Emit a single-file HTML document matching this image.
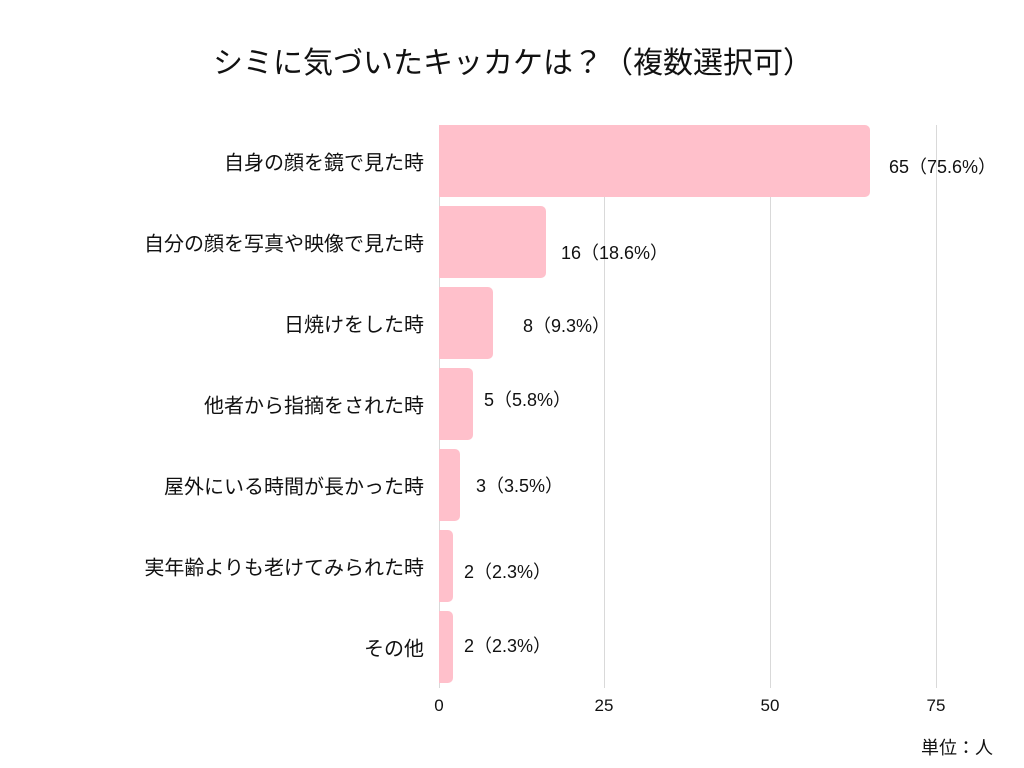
<!DOCTYPE html>
<html><head><meta charset="utf-8"><style>
html,body{margin:0;padding:0;background:#fff;}
body{width:1024px;height:768px;position:relative;overflow:hidden;font-family:"Liberation Sans","Noto Sans CJK JP",sans-serif;color:#111;}
.t{position:absolute;white-space:nowrap;}
.grid{position:absolute;top:125px;height:563px;width:1px;background:#d9d9d9;}
.bar{position:absolute;left:439px;height:72px;background:#ffc0cb;border-radius:0 5px 5px 0;}
.lab{position:absolute;right:600px;font-size:20px;transform:translateY(-50%);}
.val{position:absolute;font-size:18px;transform:translateY(-50%);}
.tick{position:absolute;top:696px;font-size:17px;transform:translateX(-50%);}
</style></head><body>
<div class="t" style="left:0;width:1026px;text-align:center;top:38px;font-size:30px;">シミに気づいたキッカケは？（複数選択可）</div>
<div class="grid" style="left:439px"></div>
<div class="grid" style="left:604px"></div>
<div class="grid" style="left:770px"></div>
<div class="grid" style="left:936px"></div>

<div class="bar" style="top:125px;width:431px"></div>
<div class="bar" style="top:206px;width:107px"></div>
<div class="bar" style="top:287px;width:54px"></div>
<div class="bar" style="top:368px;width:34px"></div>
<div class="bar" style="top:449px;width:21px"></div>
<div class="bar" style="top:530px;width:14px"></div>
<div class="bar" style="top:611px;width:14px"></div>

<div class="t lab" style="top:161px">自身の顔を鏡で見た時</div>
<div class="t lab" style="top:242px">自分の顔を写真や映像で見た時</div>
<div class="t lab" style="top:323px">日焼けをした時</div>
<div class="t lab" style="top:404px">他者から指摘をされた時</div>
<div class="t lab" style="top:485px">屋外にいる時間が長かった時</div>
<div class="t lab" style="top:566px">実年齢よりも老けてみられた時</div>
<div class="t lab" style="top:647px">その他</div>

<div class="t val" style="left:889px;top:166px">65（75.6%）</div>
<div class="t val" style="left:561px;top:252px">16（18.6%）</div>
<div class="t val" style="left:523px;top:325px">8（9.3%）</div>
<div class="t val" style="left:484px;top:399px">5（5.8%）</div>
<div class="t val" style="left:476px;top:485px">3（3.5%）</div>
<div class="t val" style="left:464px;top:571px">2（2.3%）</div>
<div class="t val" style="left:464px;top:645px">2（2.3%）</div>

<div class="t tick" style="left:439px">0</div>
<div class="t tick" style="left:604px">25</div>
<div class="t tick" style="left:770px">50</div>
<div class="t tick" style="left:936px">75</div>
<div class="t" style="right:31px;top:734px;font-size:18px;">単位：人</div>
</body></html>
